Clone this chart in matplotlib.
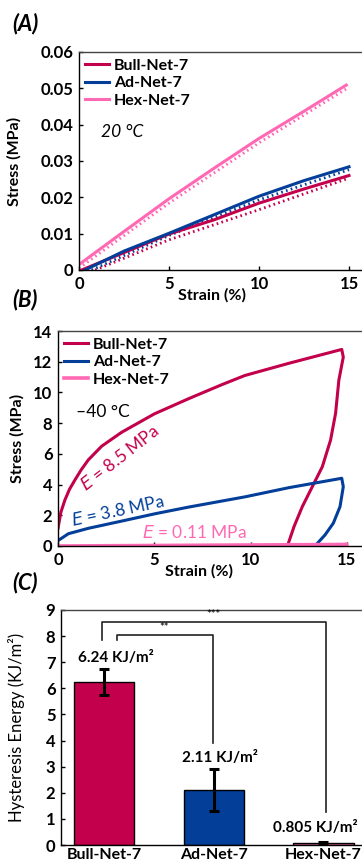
import matplotlib
matplotlib.use("Agg")
import matplotlib.pyplot as plt

plt.rcParams['font.family'] = ['Lato', 'DejaVu Sans']

# colours
c_bull = '#C3004C'
c_ad = '#033E99'
c_hex = '#FF69B4'

names = ['Bull-Net-7', 'Ad-Net-7', 'Hex-Net-7']

# ---- (A) 20 C, loading (solid) and unloading (dotted)
a_bull_x = [0.15, 5, 7.5, 10, 12.5, 15]
a_bull_y = [0.0, 0.0099, 0.0138, 0.0184, 0.0223, 0.0260]
a_bull_dx = [0.9, 5, 10, 15]
a_bull_dy = [0.0, 0.0083, 0.0166, 0.0253]
a_ad_x = [0.33, 2.5, 5, 7.5, 10, 12.5, 15]
a_ad_y = [0.0, 0.0052, 0.0101, 0.0152, 0.0203, 0.0246, 0.0284]
a_ad_dx = [0.7, 5, 10, 15]
a_ad_dy = [0.0, 0.0095, 0.0193, 0.0276]
a_hex_x = [0, 2.5, 5, 7.5, 10, 12.5, 14.85]
a_hex_y = [0.0015, 0.0106, 0.0196, 0.0280, 0.0362, 0.0437, 0.0509]
a_hex_dx = [0, 5, 10, 15]
a_hex_dy = [0.0005, 0.0184, 0.0350, 0.0503]

# ---- (B) -40 C, load + unload loops
b_bull_x = [0, 0.15, 0.36, 0.6, 0.88, 1.2, 1.57, 2.27, 3.3, 5.0, 6.8, 8.5, 9.7, 12.0, 14.74,
            14.82, 14.59, 14.42, 14.16, 13.73, 13.21, 12.69, 12.26, 11.92]
b_bull_y = [1.15, 2.2, 3.0, 3.7, 4.3, 4.95, 5.6, 6.5, 7.4, 8.6, 9.6, 10.5, 11.1, 11.9, 12.8,
            12.3, 10.8, 8.64, 6.9, 5.16, 3.86, 2.56, 1.26, 0.0]
b_ad_x = [0, 0.54, 1.57, 3.3, 5.04, 6.77, 9.71, 12.0, 14.74,
          14.82, 14.65, 14.3, 13.87, 13.35]
b_ad_y = [0.35, 0.8, 1.15, 1.62, 2.1, 2.53, 3.2, 3.8, 4.41,
          3.86, 2.56, 1.48, 0.72, 0.0]
b_hex_x = [0, 15, 14.5, 13.0]
b_hex_y = [0.0, 0.1, 0.03, 0.0]
moduli = ['8.5', '3.8', '0.11']

# ---- (C) hysteresis energy
energy = [6.24, 2.11, 0.08]
energy_err = [0.5, 0.79, 0.04]
energy_txt = ['6.24 KJ/m²', '2.11 KJ/m²', '0.805 KJ/m²']

fig = plt.figure(figsize=(3.62, 8.66), dpi=100)
W, H = 362.0, 866.0


def make_axes(left, top, right, bottom):
    return fig.add_axes([left / W, 1 - bottom / H, (right - left) / W, (bottom - top) / H])


def style(ax):
    for s in ax.spines.values():
        s.set_linewidth(1.0)
    ax.spines['top'].set_color('#444444')
    ax.tick_params(direction='in', length=3, width=1, labelsize=12, pad=4)
    for lab in ax.get_xticklabels() + ax.get_yticklabels():
        lab.set_fontweight('bold')


leg_kw = dict(loc='upper left', frameon=False, prop={'weight': 'bold', 'size': 11.5},
              handlelength=1.5, handletextpad=0.3, labelspacing=0.22,
              borderaxespad=0.2, borderpad=0.2)

# panel A
axA = make_axes(79, 52, 79 + 16 * 18, 270)
dot = (0, (0.6, 1.2))
axA.plot(a_bull_dx, a_bull_dy, color=c_bull, lw=2, ls=dot)
axA.plot(a_ad_dx, a_ad_dy, color=c_ad, lw=2, ls=dot)
axA.plot(a_hex_dx, a_hex_dy, color=c_hex, lw=2, ls=dot)
axA.plot(a_bull_x, a_bull_y, color=c_bull, lw=2.2, label=names[0])
axA.plot(a_ad_x, a_ad_y, color=c_ad, lw=2.2, label=names[1])
axA.plot(a_hex_x, a_hex_y, color=c_hex, lw=2.2, label=names[2])
axA.set_xlim(0, 16)
axA.set_ylim(0, 0.06)
axA.set_xticks([0, 5, 10, 15])
axA.set_yticks([0, 0.01, 0.02, 0.03, 0.04, 0.05, 0.06])
axA.set_yticklabels(['0', '0.01', '0.02', '0.03', '0.04', '0.05', '0.06'])
style(axA)
axA.set_xlabel('Strain (%)', fontsize=11.5, fontweight='bold')
axA.xaxis.set_label_coords(7.4 / 16, -0.085)
axA.set_ylabel('Stress (MPa)', fontsize=11.5, fontweight='bold')
axA.yaxis.set_label_coords(-0.2, 0.5)
axA.legend(**leg_kw)
axA.text(1.2, 0.038, '20 °C', fontsize=12.5, style='italic', va='center')
fig.text(12 / W, 1 - 24 / H, '(A)', fontsize=16, style='italic', fontweight='bold', va='center')

# panel B
axB = make_axes(58, 331, 58 + 16 * 19.25, 546)
axB.plot(b_bull_x, b_bull_y, color=c_bull, lw=2.2, label=names[0])
axB.plot(b_ad_x, b_ad_y, color=c_ad, lw=2.2, label=names[1])
axB.plot(b_hex_x, b_hex_y, color=c_hex, lw=2.6, label=names[2])
axB.set_xlim(0, 16)
axB.set_ylim(0, 14)
axB.set_xticks([0, 5, 10, 15])
axB.set_yticks(range(0, 15, 2))
style(axB)
axB.set_xlabel('Strain (%)', fontsize=11.5, fontweight='bold')
axB.xaxis.set_label_coords(7.3 / 16, -0.085)
axB.set_ylabel('Stress (MPa)', fontsize=11.5, fontweight='bold')
axB.yaxis.set_label_coords(-0.11, 0.5)
axB.legend(**leg_kw)
axB.text(0.95, 8.75, '–40 °C', fontsize=12.5, va='center')
axB.text(3.2, 5.75, '$\\it{E}$ = ' + moduli[0] + ' MPa', color=c_bull, fontsize=12.5,
         rotation=38, ha='center', va='center', rotation_mode='anchor')
axB.text(3.1, 2.3, '$\\it{E}$ = ' + moduli[1] + ' MPa', color=c_ad, fontsize=12.5,
         rotation=12, ha='center', va='center', rotation_mode='anchor')
axB.text(7.1, 0.85, '$\\it{E}$ = ' + moduli[2] + ' MPa', color=c_hex, fontsize=12.5,
         ha='center', va='center')
fig.text(12 / W, 1 - 300 / H, '(B)', fontsize=16, style='italic', fontweight='bold', va='center')

# panel C
axC = make_axes(61, 610, 61 + 3.0 * 109.7, 845)
xs = [0, 1, 2]
axC.bar(xs, energy, width=0.55, color=[c_bull, c_ad, c_hex], edgecolor='black', lw=1)
axC.errorbar(xs, energy, yerr=energy_err, fmt='none', ecolor='black', elinewidth=2.2,
             capsize=3.5, capthick=2.2)
axC.set_xlim(-0.392, 2.608)
axC.set_ylim(0, 9)
axC.set_xticks(xs)
axC.set_xticklabels(names)
axC.set_yticks(range(10))
style(axC)
axC.tick_params(axis='x', length=0, pad=2, labelsize=11.5)
axC.set_ylabel('Hysteresis Energy (KJ/m²)', fontsize=12)
axC.yaxis.set_label_coords(-0.11, 0.5)
# significance brackets
axC.plot([0.12, 0.12, 0.99, 0.99], [7.85, 8.05, 8.05, 3.9], color='#222222', lw=1.2)
axC.plot([-0.015, -0.015, 2.02, 2.02], [7.85, 8.53, 8.53, 1.26], color='#222222', lw=1.2)
axC.text(0.55, 8.12, '**', ha='center', va='bottom', fontsize=8)
axC.text(1.0, 8.6, '***', ha='center', va='bottom', fontsize=8)
label_pos = [(0.11, 7.15), (1.06, 3.33), (1.93, 0.65)]
for (lx, ly), t in zip(label_pos, energy_txt):
    axC.text(lx, ly, t, ha='center', va='center', fontsize=11, fontweight='bold')
fig.text(12 / W, 1 - 583 / H, '(C)', fontsize=16, style='italic', fontweight='bold', va='center')

fig.savefig('out.png', dpi=100)
